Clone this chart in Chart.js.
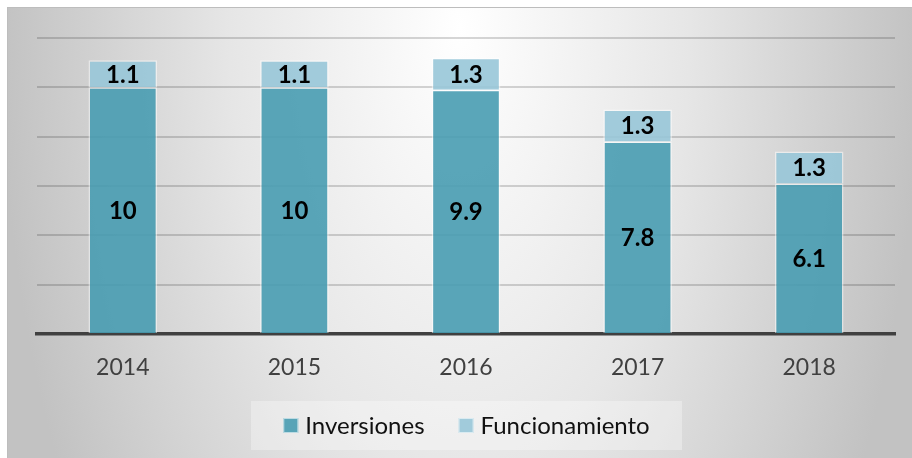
<!DOCTYPE html>
<html>
<head>
<meta charset="utf-8">
<script src="https://cdn.jsdelivr.net/npm/chart.js@4.4.1/dist/chart.umd.min.js"></script>
<style>
  html, body { margin: 0; padding: 0; background: #ffffff; }
  #panel {
    position: absolute; left: 7px; top: 7px; width: 904px; height: 450px;
    border-top: 1px solid #bdbdbd; border-left: 1px solid #bdbdbd;
    background: radial-gradient(ellipse 460px 900px at 50% 20px, #ffffff 0%, #e6e6e6 50%, #c2c2c2 100%);
  }
  canvas { display: block; }
</style>
</head>
<body>
<div id="panel"><canvas id="grafico" width="904" height="450"></canvas></div>
<script>
const anos = ['2014', '2015', '2016', '2017', '2018'];
const inversiones = [10, 10, 9.9, 7.8, 6.1];
const funcionamiento = [1.1, 1.1, 1.3, 1.3, 1.3];
const nombresSeries = ['Inversiones', 'Funcionamiento'];
const marcasY = [0, 2, 4, 6, 8, 10, 12];

const fuente = 'Lato, "Open Sans", sans-serif';

// etiquetas dentro de cada segmento
const etiquetasBarras = {
    id: 'etiquetasBarras',
    afterDatasetsDraw(chart) {
        const ctx = chart.ctx;
        ctx.save();
        ctx.font = 'bold 24px ' + fuente;
        ctx.fillStyle = '#000000';
        ctx.textAlign = 'center';
        ctx.textBaseline = 'middle';
        chart.data.datasets.forEach((ds, i) => {
            const meta = chart.getDatasetMeta(i);
            meta.data.forEach((bar, j) => {
                const p = bar.getProps(['x', 'y', 'base'], true);
                ctx.fillText(String(ds.data[j]), p.x, (p.y + p.base) / 2 + 1);
            });
        });
        ctx.restore();
    }
};

// leyenda con recuadro claro
const leyenda = {
    id: 'leyenda',
    afterDraw(chart) {
        const ctx = chart.ctx;
        const caja = { x: 243, y: 393, w: 431, h: 49 };
        ctx.save();
        ctx.fillStyle = 'rgba(255,255,255,0.32)';
        ctx.fillRect(caja.x, caja.y, caja.w, caja.h);
        ctx.font = '24px ' + fuente;
        ctx.textBaseline = 'middle';
        const cuadro = 15, sep = 7, entre = 34;
        const items = chart.data.datasets.map(ds => ({
            texto: ds.label, color: ds.backgroundColor, ancho: ctx.measureText(ds.label).width
        }));
        let total = 0;
        items.forEach((it, k) => { total += cuadro + sep + it.ancho + (k ? entre : 0); });
        let x = caja.x + (caja.w - total) / 2;
        const cy = caja.y + caja.h / 2;
        items.forEach(it => {
            ctx.fillStyle = it.color;
            ctx.fillRect(x, cy - cuadro / 2, cuadro, cuadro);
            ctx.strokeStyle = 'rgba(255,255,255,0.6)';
            ctx.lineWidth = 1;
            ctx.strokeRect(x + 0.5, cy - cuadro / 2 + 0.5, cuadro - 1, cuadro - 1);
            ctx.fillStyle = '#111111';
            ctx.fillText(it.texto, x + cuadro + sep, cy + 1);
            x += cuadro + sep + it.ancho + entre;
        });
        ctx.restore();
    }
};

new Chart(document.getElementById('grafico').getContext('2d'), {
    type: 'bar',
    data: {
        labels: anos,
        datasets: [{
            label: nombresSeries[0],
            data: inversiones,
            backgroundColor: 'rgba(72,156,177,0.9)',
            borderColor: 'rgba(255,255,255,0.5)',
            borderWidth: 1.5,
            barPercentage: 0.4,
            categoryPercentage: 1
        }, {
            label: nombresSeries[1],
            data: funcionamiento,
            backgroundColor: 'rgba(152,199,216,0.9)',
            borderColor: 'rgba(255,255,255,0.5)',
            borderWidth: 1.5,
            barPercentage: 0.4,
            categoryPercentage: 1
        }]
    },
    options: {
        responsive: false,
        animation: false,
        layout: { padding: { left: 29, right: 17, top: 30, bottom: 0 } },
        plugins: {
            legend: { display: false },
            tooltip: { enabled: false },
            title: { display: false }
        },
        scales: {
            x: {
                stacked: true,
                grid: { display: false },
                border: { display: true, color: '#404040', width: 3.5 },
                ticks: { color: '#404040', font: { family: fuente, size: 23 }, padding: 12 },
                afterFit: s => { s.height = 124; }
            },
            y: {
                stacked: true,
                min: marcasY[0],
                max: marcasY[marcasY.length - 1],
                afterBuildTicks: s => { s.ticks = marcasY.map(v => ({ value: v })); },
                grid: { color: 'rgba(0,0,0,0.16)', lineWidth: 2, drawTicks: false },
                border: { display: false },
                ticks: { display: false },
                afterFit: s => { s.width = 0; }
            }
        }
    },
    plugins: [etiquetasBarras, leyenda]
});
</script>
</body>
</html>
